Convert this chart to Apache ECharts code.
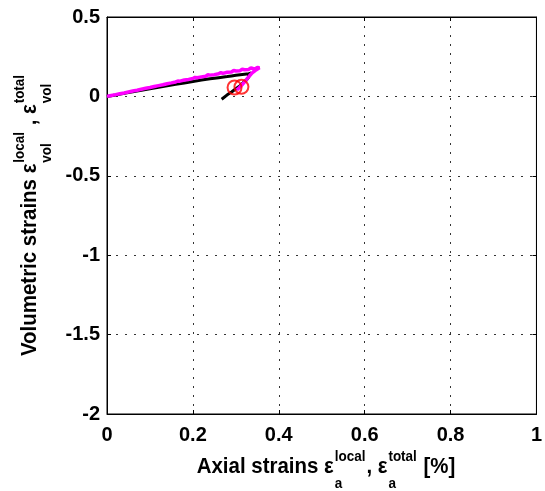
<!DOCTYPE html>
<html>
<head>
<meta charset="utf-8">
<script src="https://cdn.jsdelivr.net/npm/echarts@6/dist/echarts.min.js"></script>
<style>
html,body{margin:0;padding:0;background:#fff;}
#chart{width:545px;height:491px;}
</style>
</head>
<body>
<div id="chart"></div>
<script>
// ---- data ----
const totalX = [0,0.01,0.02,0.03,0.04,0.05,0.06,0.07,0.08,0.09,0.10,0.11,0.12,0.13,0.14,0.15,0.16,0.165,0.17,0.18,0.19,0.20,0.205,0.21,0.22,0.23,0.235,0.24,0.25,0.26,0.265,0.27,0.28,0.29,0.295,0.30,0.31,0.315,0.32,0.33,0.335,0.34,0.345,0.35,0.355,0.358,0.352,0.345,0.338,0.332,0.326,0.320,0.314,0.308,0.302];
const totalY = [0,0.006,0.011,0.017,0.022,0.028,0.034,0.039,0.045,0.051,0.056,0.062,0.068,0.073,0.080,0.085,0.091,0.097,0.096,0.103,0.107,0.113,0.120,0.117,0.123,0.127,0.136,0.134,0.137,0.143,0.150,0.145,0.152,0.154,0.163,0.160,0.162,0.172,0.168,0.170,0.180,0.176,0.174,0.182,0.180,0.190,0.176,0.163,0.148,0.130,0.110,0.090,0.072,0.055,0.040];
const localX = [0,0.02,0.04,0.06,0.08,0.10,0.12,0.14,0.16,0.18,0.20,0.22,0.24,0.26,0.28,0.29,0.30,0.31,0.32,0.33,0.336,0.326,0.334,0.330,0.325,0.318,0.310,0.300,0.290,0.280,0.267];
const localY = [0,0.009,0.019,0.029,0.039,0.048,0.058,0.067,0.076,0.085,0.094,0.103,0.111,0.118,0.125,0.129,0.133,0.137,0.140,0.143,0.147,0.138,0.142,0.122,0.104,0.088,0.068,0.048,0.028,0.010,-0.018];
const markX = [0.297,0.313];
const markY = [0.056,0.060];
const xMin = 0, xMax = 1, xStep = 0.2;
const yMin = -2, yMax = 0.5, yStep = 0.5;
const xTitleParts = [{t:'Axial strains \u03b5'},{sub:'a',sup:'local'},{t:', \u03b5'},{sub:'a',sup:'total'},{t:' [%]'}];
const yTitleParts = [{t:'Volumetric strains \u03b5'},{sub:'vol',sup:'local'},{t:' , \u03b5'},{sub:'vol',sup:'total'}];

// ---- helpers ----
const FAM = '"Liberation Sans", Arial, sans-serif';
const MAIN = 22, SMALL = 14.5;
const cv = document.createElement('canvas').getContext('2d');
function mw(t, s){ cv.font = 'bold ' + s + 'px ' + FAM; return cv.measureText(t).width; }
function buildTitle(parts){
  const items = []; let x = 0;
  parts.forEach(p => {
    if (p.t !== undefined) { items.push({t:p.t, x:x, y:0, s:MAIN}); x += mw(p.t, MAIN); }
    else {
      items.push({t:p.sub, x:x+1, y:17, s:SMALL});
      items.push({t:p.sup, x:x+1, y:-10, s:SMALL});
      x += Math.max(mw(p.sub,SMALL), mw(p.sup,SMALL)) + 2;
    }
  });
  return items.map(it => ({
    type:'text', x: it.x - x/2, y: it.y,
    style:{text:it.t, fontSize:it.s, fontWeight:'bold', fontFamily:FAM, fill:'#000', align:'left', verticalAlign:'middle'}
  }));
}
function pairs(xs, ys){ return xs.map((v,i)=>[v, ys[i]]); }

const chart = echarts.init(document.getElementById('chart'), null, {renderer:'canvas'});
const labelStyle = {color:'#000', fontSize:20, fontWeight:'bold', fontFamily:FAM};
const gridLine = {show:true, lineStyle:{color:'#333', width:1, type:[2,7]}};
chart.setOption({
  animation:false,
  backgroundColor:'#fff',
  grid:{left:107, right:2, top:17, bottom:77, show:true, borderColor:'#000', borderWidth:1, backgroundColor:'transparent'},
  xAxis:[{
    type:'value', min:xMin, max:xMax, interval:xStep,
    axisLine:{show:true, onZero:false, lineStyle:{color:'#000', width:1}},
    axisTick:{show:true, inside:true, length:4, lineStyle:{color:'#000'}},
    axisLabel:Object.assign({margin:11}, labelStyle),
    splitLine:gridLine
  },{
    type:'value', position:'top', min:xMin, max:xMax, interval:xStep,
    axisLine:{show:true, onZero:false, lineStyle:{color:'#000'}},
    axisTick:{show:true, inside:true, length:4, lineStyle:{color:'#000'}},
    axisLabel:{show:false}, splitLine:{show:false}
  }],
  yAxis:[{
    type:'value', min:yMin, max:yMax, interval:yStep,
    axisLine:{show:true, onZero:false, lineStyle:{color:'#000', width:1}},
    axisTick:{show:true, inside:true, length:4, lineStyle:{color:'#000'}},
    axisLabel:Object.assign({margin:7}, labelStyle),
    splitLine:gridLine
  },{
    type:'value', position:'right', min:yMin, max:yMax, interval:yStep,
    axisLine:{show:true, onZero:false, lineStyle:{color:'#000'}},
    axisTick:{show:true, inside:true, length:4, lineStyle:{color:'#000'}},
    axisLabel:{show:false}, splitLine:{show:false}
  }],
  series:[
    {type:'line', name:'local', data:pairs(localX, localY), showSymbol:false, symbol:'none',
     lineStyle:{color:'#000', width:3}, z:2},
    {type:'line', name:'total', data:pairs(totalX, totalY), showSymbol:false, symbol:'none',
     lineStyle:{color:'#ff00ff', width:3.5}, z:3},
    {type:'scatter', name:'marks', data:pairs(markX, markY), symbol:'circle', symbolSize:14,
     itemStyle:{color:'rgba(0,0,0,0)', borderColor:'#ff0000', borderWidth:2}, z:4}
  ],
  graphic:[
    {type:'group', x:326, y:467, scaleX:0.93, children:buildTitle(xTitleParts)},
    {type:'group', x:30, y:215, rotation:Math.PI/2, scaleX:0.93, children:buildTitle(yTitleParts)}
  ]
});
</script>
</body>
</html>
